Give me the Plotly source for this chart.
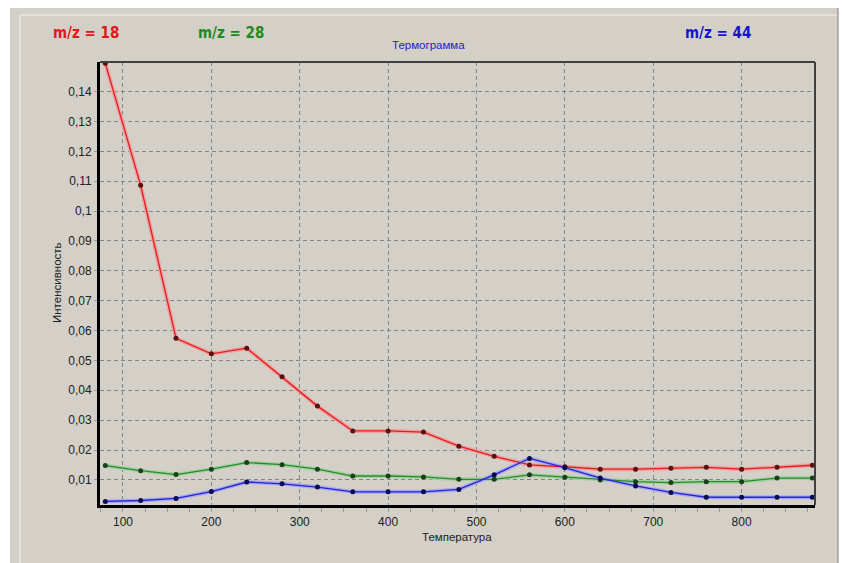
import plotly.graph_objects as go

# ---- data ----
temperature = [80, 120, 160, 200, 240, 280, 320, 360, 400, 440, 480,
               520, 560, 600, 640, 680, 720, 760, 800, 840, 880]
mz18 = [0.1495, 0.1086, 0.0574, 0.0522, 0.0541, 0.0445, 0.0347, 0.0264, 0.0264, 0.0260, 0.0213,
        0.0179, 0.0150, 0.0144, 0.0136, 0.0136, 0.0139, 0.0142, 0.0136, 0.0142, 0.0149]
mz28 = [0.0148, 0.0131, 0.0118, 0.0136, 0.0158, 0.0151, 0.0136, 0.0113, 0.0113, 0.0110, 0.0102,
        0.0102, 0.0117, 0.0109, 0.0100, 0.0094, 0.0091, 0.0094, 0.0094, 0.0106, 0.0106]
mz44 = [0.0028, 0.0031, 0.0038, 0.0061, 0.0093, 0.0087, 0.0076, 0.0060, 0.0060, 0.0060, 0.0068,
        0.0117, 0.0172, 0.0141, 0.0106, 0.0080, 0.0058, 0.0042, 0.0042, 0.0042, 0.0042]
x_ticks = [100, 200, 300, 400, 500, 600, 700, 800]

series = [
    ("m/z = 18", mz18, "#e41c1c", "#eea0a0", "#5a1010"),
    ("m/z = 28", mz28, "#2a8a2a", "#a4d0a4", "#1a401a"),
    ("m/z = 44", mz44, "#2424d4", "#a8a8ee", "#0a0a50"),
]

BG = "#d4d0c8"
fig = go.Figure()
for name, ys, col, halo, mcol in series:
    fig.add_trace(go.Scatter(x=temperature, y=ys, mode="lines",
                             line=dict(color=halo, width=4), hoverinfo="skip",
                             showlegend=False))
for name, ys, col, halo, mcol in series:
    fig.add_trace(go.Scatter(x=temperature, y=ys, mode="lines+markers", name=name,
                             line=dict(color=col, width=1.3),
                             marker=dict(color=mcol, size=5),
                             showlegend=False))

L, R, T, B = 100, 29, 62, 58
W, H = 844, 563
pw, ph = W - L - R, H - T - B

def px(xp):
    return (xp - L) / pw

def py(yp):
    return (H - B - yp) / ph

shapes = [
    # grey window panel
    dict(type="rect", xref="paper", yref="paper", x0=px(10), x1=px(838), y0=py(8), y1=py(563),
         fillcolor=BG, line=dict(width=0), layer="below"),
    dict(type="line", xref="paper", yref="paper", x0=px(20), x1=px(20), y0=py(15), y1=py(563),
         line=dict(color="#f4f2ee", width=1), layer="below"),
    dict(type="line", xref="paper", yref="paper", x0=px(20), x1=px(837), y0=py(15), y1=py(15),
         line=dict(color="#f4f2ee", width=1), layer="below"),
    dict(type="line", xref="paper", yref="paper", x0=px(838), x1=px(838), y0=py(8), y1=py(563),
         line=dict(color="#808080", width=1), layer="below"),
    # top and right frame of plot
    dict(type="line", xref="paper", yref="paper", x0=0, x1=1, y0=1, y1=1,
         line=dict(color="#404040", width=2)),
    dict(type="line", xref="paper", yref="paper", x0=1, x1=1, y0=0, y1=1,
         line=dict(color="#404040", width=2)),
]

label_font = "DejaVu Sans Condensed, Liberation Sans Narrow, Liberation Sans, Arial, sans-serif"
annotations = [
    dict(text="<b>m/z = 18</b>", x=px(86), y=py(33), font=dict(color="#e01818", size=15, family=label_font)),
    dict(text="<b>m/z = 28</b>", x=px(231), y=py(33), font=dict(color="#1e8a1e", size=15, family=label_font)),
    dict(text="<b>m/z = 44</b>", x=px(718), y=py(33), font=dict(color="#1414c8", size=15, family=label_font)),
    dict(text="Термограмма", x=px(428.5), y=py(45), font=dict(color="#2020d0", size=11.5)),
    dict(text="Интенсивность", x=px(57), y=py(283), textangle=-90, font=dict(color="#202020", size=11.5)),
    dict(text="Температура", x=px(457), y=py(537), font=dict(color="#202020", size=11.5)),
]
for a in annotations:
    a.update(xref="paper", yref="paper", xanchor="center", yanchor="middle", showarrow=False)

fig.update_layout(
    width=W, height=H,
    margin=dict(l=L, r=R, t=T, b=B),
    paper_bgcolor="white",
    plot_bgcolor=BG,
    separators=", ",
    font=dict(family="Liberation Sans, Arial, sans-serif", size=12, color="#202020"),
    shapes=shapes,
    annotations=annotations,
    showlegend=False,
)
fig.update_xaxes(
    range=[74, 883], tickmode="array", tickvals=x_ticks,
    showgrid=True, gridcolor="#858585", griddash="4px,3px", gridwidth=1,
    showline=True, linecolor="black", linewidth=3,
    ticks="outside", ticklen=4, tickcolor="#9a9a9a",
    minor=dict(dtick=25, tick0=0, ticks="outside", ticklen=4, tickcolor="#9a9a9a", showgrid=False),
    zeroline=False, tickfont=dict(size=12, color="#202020"),
)
fig.update_yaxes(
    range=[0.0016, 0.1499], tick0=0, dtick=0.01,
    showgrid=True, gridcolor="#858585", griddash="4px,3px", gridwidth=1,
    showline=True, linecolor="black", linewidth=3,
    ticks="outside", ticklen=3, tickcolor="#9a9a9a",
    zeroline=False, tickfont=dict(size=12, color="#202020"),
)

fig.write_html("out.html")
